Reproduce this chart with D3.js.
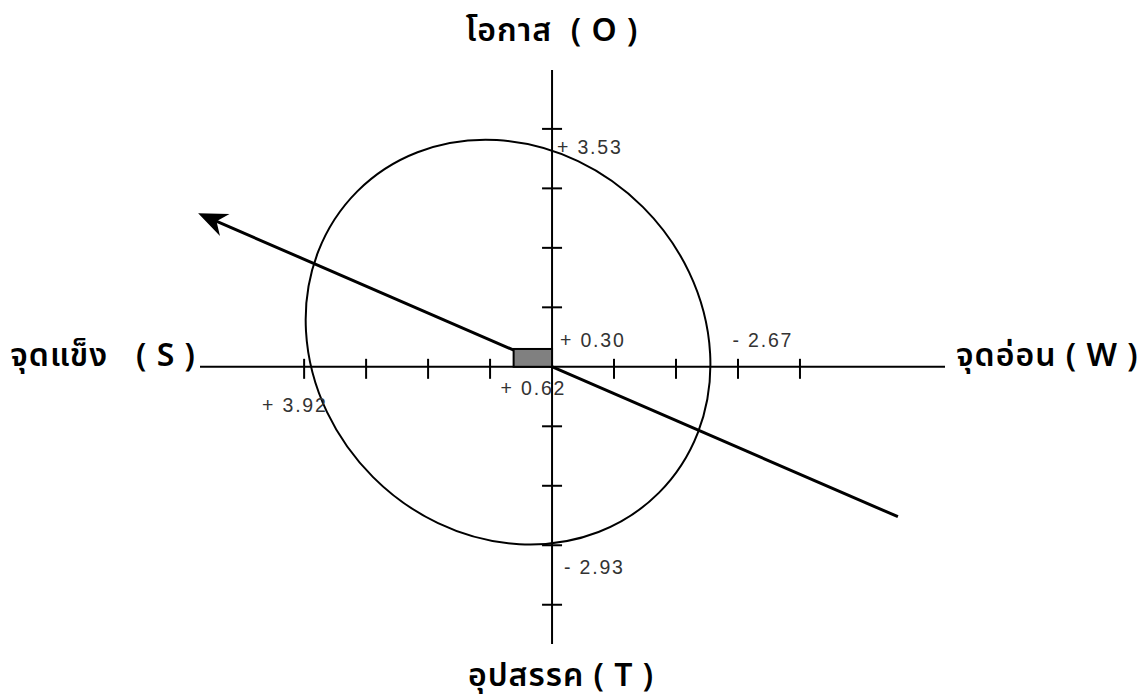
<!DOCTYPE html>
<html>
<head>
<meta charset="UTF-8">
<title>SWOT</title>
<style>
    body {
        margin: 0;
        background: #fff;
    }
    .axis-name {
        font-family: "Noto Sans", "Noto Sans Thai", sans-serif;
        font-size: 32px;
        font-weight: 600;
        letter-spacing: 1px;
        fill: #000;
        white-space: pre;
    }
    .score {
        font-family: "Liberation Sans", Arial, sans-serif;
        font-size: 19.5px;
        letter-spacing: 1.8px;
        fill: #333;
        white-space: pre;
    }
</style>
<script src="https://d3js.org/d3.v7.min.js"></script>
</head>
<body>
<div id="chart"></div>
<script>
    // scores (x positive = strength side, y positive = opportunity side)
    var xTicks = [4, 3, 2, 1, -1, -2, -3, -4];
    var yTicks = [4, 3, 2, 1, -1, -2, -3, -4];
    var axisNames = ["โอกาส  ( O )", "จุดแข็ง   ( S )", "จุดอ่อน ( W )", "อุปสรรค ( T )"];
    var scoreKeys = ["O", "S", "W", "T"];
    var scoreValues = [3.53, 3.92, -2.67, -2.93];
    var scoreTexts = ["+ 3.53", "+ 3.92", "- 2.67", "- 2.93"];
    var netX = 0.62, netY = 0.30;
    var netTexts = ["+ 0.62", "+ 0.30"];
    // strategy arrow end points and circle (data units)
    var arrowFrom = [-5.58, -2.52];
    var arrowTo = [5.71, 2.58];
    var circleCenter = [0.71, 0.415];
    var circleRadii = [3.44, 3.08];

    var width = 1142, height = 697;

    var x = d3.scaleLinear().domain([5.68, -6.34]).range([200, 945]);
    var y = d3.scaleLinear().domain([4.99, -4.66]).range([70, 644]);

    var svg = d3.select("#chart").append("svg")
        .attr("width", width)
        .attr("height", height);

    // circle (tilted ellipse)
    svg.append("ellipse")
        .attr("cx", 0).attr("cy", 0)
        .attr("rx", Math.abs(x(circleRadii[0]) - x(0)))
        .attr("ry", Math.abs(x(circleRadii[1]) - x(0)))
        .attr("transform", "translate(" + x(circleCenter[0]) + "," + y(circleCenter[1]) + ") rotate(45)")
        .attr("fill", "none")
        .attr("stroke", "#000")
        .attr("stroke-width", 2);

    // axes
    svg.append("line")
        .attr("x1", x(5.68)).attr("x2", x(-6.34))
        .attr("y1", y(0)).attr("y2", y(0))
        .attr("stroke", "#000").attr("stroke-width", 2);
    svg.append("line")
        .attr("x1", x(0)).attr("x2", x(0))
        .attr("y1", y(4.99)).attr("y2", y(-4.66))
        .attr("stroke", "#000").attr("stroke-width", 2);

    svg.selectAll(".xtick").data(xTicks).enter().append("line")
        .attr("class", "xtick")
        .attr("x1", function(d) { return x(d); })
        .attr("x2", function(d) { return x(d); })
        .attr("y1", y(0) - 8).attr("y2", y(0) + 12)
        .attr("stroke", "#000").attr("stroke-width", 2);

    svg.selectAll(".ytick").data(yTicks).enter().append("line")
        .attr("class", "ytick")
        .attr("y1", function(d) { return y(d); })
        .attr("y2", function(d) { return y(d); })
        .attr("x1", x(0) - 10).attr("x2", x(0) + 10)
        .attr("stroke", "#000").attr("stroke-width", 2);

    // strategy arrow
    var p0 = [x(arrowFrom[0]), y(arrowFrom[1])];
    var p1 = [x(arrowTo[0]), y(arrowTo[1])];
    var len = Math.hypot(p1[0] - p0[0], p1[1] - p0[1]);
    var ux = (p1[0] - p0[0]) / len, uy = (p1[1] - p0[1]) / len;
    svg.append("line")
        .attr("x1", p0[0]).attr("y1", p0[1])
        .attr("x2", p1[0] - ux * 14).attr("y2", p1[1] - uy * 14)
        .attr("stroke", "#000").attr("stroke-width", 3);
    var ang = Math.atan2(uy, ux) * 180 / Math.PI;
    svg.append("path")
        .attr("d", "M0,0 L-29,-12 L-20,0 L-29,12 Z")
        .attr("transform", "translate(" + p1[0] + "," + p1[1] + ") rotate(" + ang + ")")
        .attr("fill", "#000");

    // net position box
    svg.append("rect")
        .attr("x", x(netX)).attr("y", y(netY))
        .attr("width", x(0) - x(netX))
        .attr("height", y(0) - y(netY))
        .attr("fill", "#808080")
        .attr("stroke", "#000")
        .attr("stroke-width", 2);

    // score labels
    var scorePos = {
        O: function(v) { return [x(0) + 5, y(v) - 3]; },
        S: function(v) { return [x(v) - 47, y(0) + 45]; },
        W: function(v) { return [x(v) + 15, y(0) - 20]; },
        T: function(v) { return [x(0) + 12, y(v) + 33]; }
    };
    scoreKeys.forEach(function(k, i) {
        var p = scorePos[k](scoreValues[i]);
        svg.append("text").attr("class", "score")
            .attr("x", p[0]).attr("y", p[1])
            .text(scoreTexts[i]);
    });
    svg.append("text").attr("class", "score")
        .attr("x", x(netX) - 13).attr("y", y(0) + 28)
        .text(netTexts[0]);
    svg.append("text").attr("class", "score")
        .attr("x", x(0) + 8).attr("y", y(netY) - 2)
        .text(netTexts[1]);

    // axis names
    var namePos = [
        [x(0), 41, "middle"],
        [196, y(0) - 1, "end"],
        [956, y(0) - 1, "start"],
        [x(0) + 9, 686, "middle"]
    ];
    axisNames.forEach(function(n, i) {
        svg.append("text").attr("class", "axis-name")
            .attr("x", namePos[i][0]).attr("y", namePos[i][1])
            .attr("text-anchor", namePos[i][2])
            .text(n);
    });
</script>
</body>
</html>
